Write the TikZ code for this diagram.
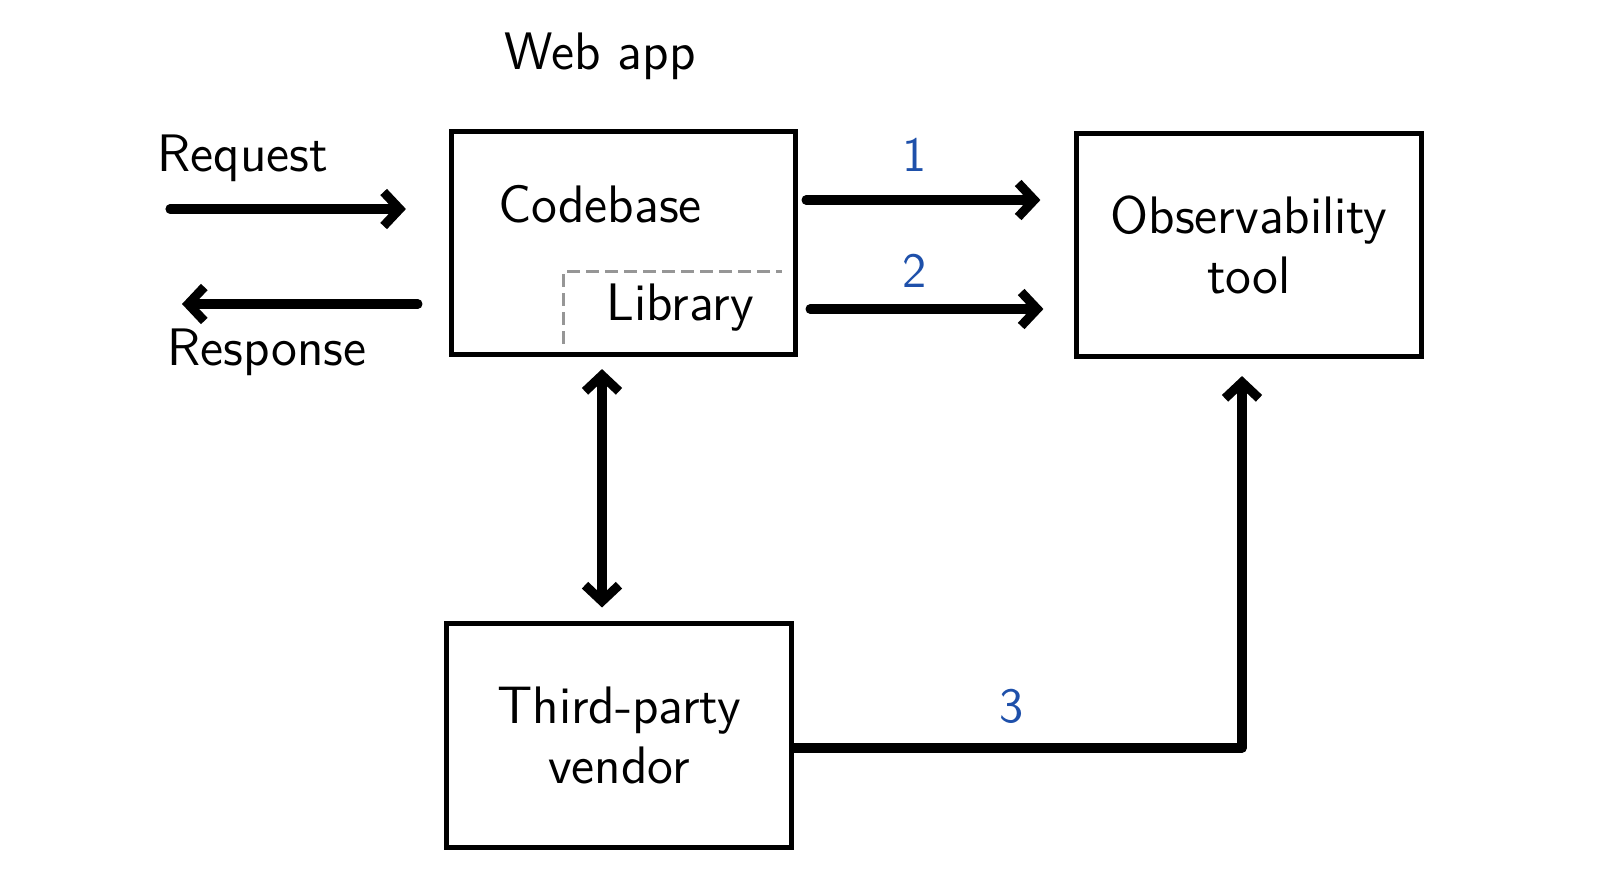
\documentclass[tikz,border=0pt]{standalone}
\usepackage{xcolor}
\usepackage{tikz}
\usetikzlibrary{positioning}
\usetikzlibrary{calc}
\usetikzlibrary{arrows.meta}

\definecolor{numblue}{RGB}{30,80,170}
\definecolor{libgray}{RGB}{150,150,150}

\tikzset{
    sysbox/.style={draw, line width=1.4pt, minimum width=3.44cm, minimum height=2.23cm, align=center, font=\sffamily\fontsize{15}{17}\selectfont},
    plaintext/.style={font=\sffamily\fontsize{15}{17}\selectfont},
    numlabel/.style={text=numblue, font=\sffamily\fontsize{14}{17}\selectfont},
    flow/.style={line width=2.6pt, line cap=round, line join=round, -{Straight Barb[length=1.6mm,width=3.4mm]}},
    libline/.style={libgray, line width=0.9pt, dash pattern=on 1.3mm off 0.6mm}
}

\begin{document}
\begin{tikzpicture}[x=0.01cm, y=-0.01cm]
    \useasboundingbox (0,0) rectangle (1600,884);

    \node[sysbox] (webapp) at (623.5,243) {};
    \node[sysbox] (obs) at (1249,245) {Observability\\tool};
    \node[sysbox] (vendor) at (619,735.5) {Third-party\\vendor};

    \node[plaintext] (title) at (600,56) {Web app};
    \node[plaintext] (code) at (600,204) {Codebase};
    \node[minimum width=2.17cm, minimum height=0.69cm, plaintext] (lib) at (672.5,307.5) {\hspace{0.3em}Library};
    \draw[libline] (lib.south west) |- (lib.north east);

    \coordinate (reqin) at (170,209);
    \coordinate (respout) at (182,304);
    \coordinate (vx) at (602,0);
    \coordinate (corner) at (1242,748);

    % in and out of the web app
    \draw[flow, shorten >=4.3mm] (reqin) -- (webapp.west |- reqin);
    \draw[flow, shorten <=3.1mm] (webapp.west |- respout) -- (respout);
    \node[plaintext] (req) at (243,158) {Request};
    \node[plaintext] (resp) at (267,352) {Response};

    % telemetry paths
    \draw[flow, shorten <=0.8mm, shorten >=3.4mm] (webapp.east |- 0,200) -- (obs.west |- 0,200);
    \draw[flow, shorten <=1.2mm, shorten >=3.1mm] (webapp.east |- 0,309) -- (obs.west |- 0,309);
    \node[numlabel] (one) at (915,155) {1};
    \node[numlabel] (two) at (915,271) {2};

    \draw[flow, {Straight Barb[length=1.6mm,width=3.4mm]}-{Straight Barb[length=1.6mm,width=3.4mm]}, shorten <=1.2mm, shorten >=1.4mm] (webapp.south -| vx) -- (vendor.north -| vx);

    \draw[flow, shorten >=1.7mm] (vendor.east |- corner) -- (corner) -- (obs.south -| corner);
    \node[numlabel] (three) at (1012,706) {3};
\end{tikzpicture}
\end{document}
